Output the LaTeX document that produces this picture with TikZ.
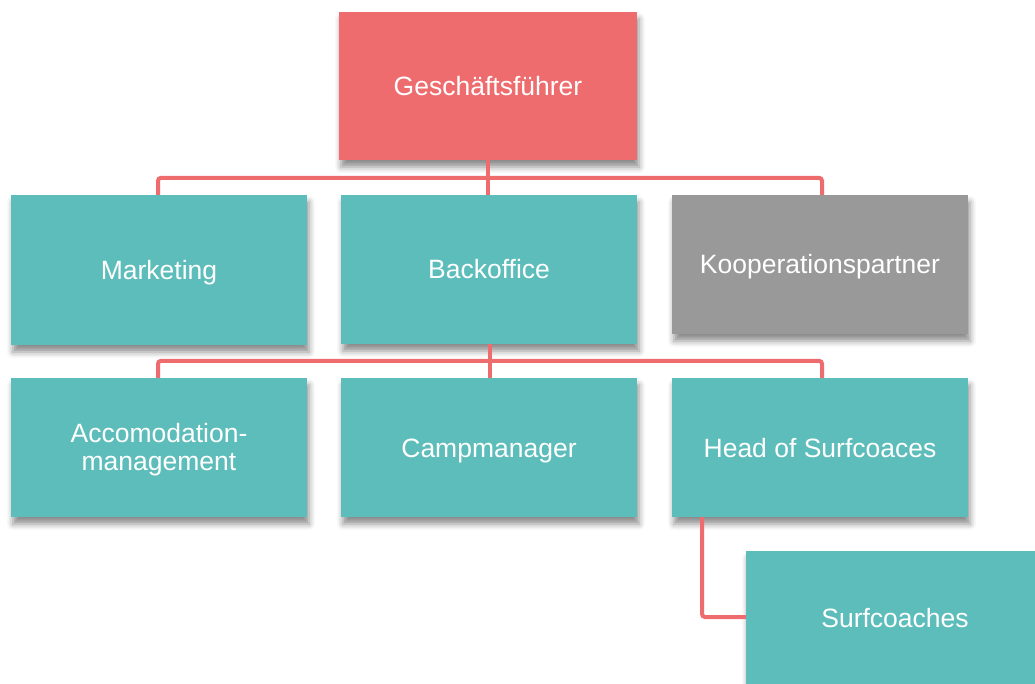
\documentclass[tikz,border=0pt]{standalone}
\usepackage{fontspec}
\setmainfont{Liberation Sans}
\usetikzlibrary{shadows.blur}
\definecolor{leadred}{HTML}{EE6B6E}
\definecolor{teamteal}{HTML}{5DBDBA}
\definecolor{partnergray}{HTML}{999999}
\begin{document}
\begin{tikzpicture}[x=1pt,y=-1pt,
  orgbox/.style={draw=none, inner sep=0pt, align=center, text=white,
    minimum width=296pt, font=\fontsize{26.5}{28}\selectfont,
    text height=21pt, text depth=2pt,
    blur shadow={shadow xshift=2pt, shadow yshift=-7pt, shadow blur radius=6pt, shadow opacity=45}},
  link/.style={draw=leadred, line width=4pt, rounded corners=3pt}]
  \useasboundingbox (0,0) rectangle (1035,684);
  \begin{scope}
  \clip (0,0) rectangle (1035,684);
  % top level
  \node[orgbox, fill=leadred, minimum width=298pt, minimum height=148pt] (gf) at (488,86) {Geschäftsführer};
  % departments
  \node[orgbox, fill=teamteal, minimum height=150pt] (mk) at (159,270) {Marketing};
  \node[orgbox, fill=teamteal, minimum height=149pt] (bo) at (489,269.5) {Backoffice};
  \node[orgbox, fill=partnergray, minimum height=139pt] (kp) at (820,264.5) {Kooperationspartner};
  % back office team
  \node[orgbox, fill=teamteal, minimum height=139pt, text height=, text depth=] (am) at (159,447.5) {\raisebox{-3pt}[\height][\depth]{\begin{tabular}{@{}c@{}}Accomodation-\\[0pt]management\end{tabular}}};
  \node[orgbox, fill=teamteal, minimum height=139pt] (cm) at (489,447.5) {Campmanager};
  \node[orgbox, fill=teamteal, minimum height=139pt] (hs) at (820,447.5) {Head of Surfcoaces};
  % surf coaching
  \node[orgbox, fill=teamteal, minimum width=298pt, minimum height=139pt, text height=18pt, text depth=5pt] (sc) at (895,620.5) {Surfcoaches};
  \end{scope}
  % connectors
  \draw[link] ([xshift=-1pt]mk.north) -- ++(0,-17) -| ([xshift=2pt]kp.north);
  \draw[link] (gf.south) -- (gf.south |- bo.north);
  \draw[link] ([xshift=-1pt]am.north) -- ++(0,-17) -| ([xshift=2pt]hs.north);
  \draw[link] ([xshift=1pt]bo.south) -- ([xshift=1pt]bo.south |- cm.north);
  \draw[link] ([xshift=-118pt]hs.south) |- (sc.west |- 0,617);
\end{tikzpicture}
\end{document}
